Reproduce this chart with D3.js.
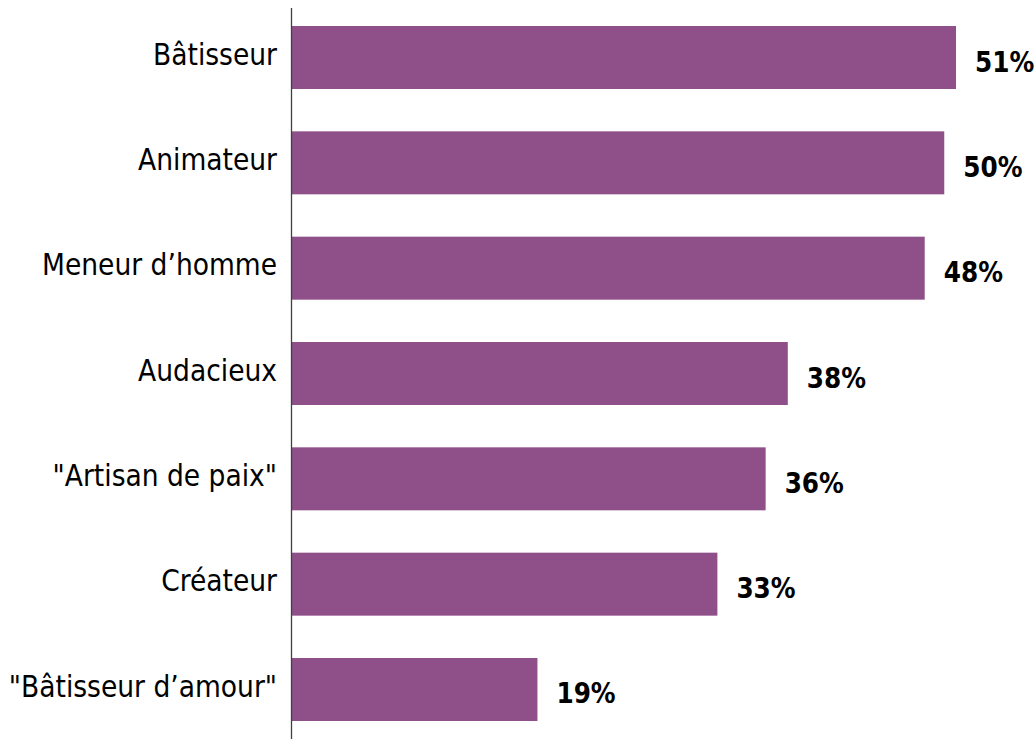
<!DOCTYPE html>
<html>
<head>
<meta charset="utf-8">
<script src="https://cdn.jsdelivr.net/npm/d3@7"></script>
<style>
  html, body { margin: 0; padding: 0; background: #fff; }
</style>
</head>
<body>
<div id="chart"></div>
<script>
// categories, top to bottom
const categories = ["Bâtisseur", "Animateur", "Meneur d’homme", "Audacieux", "\"Artisan de paix\"", "Créateur", "\"Bâtisseur d’amour\""];
// values (%)
const values = [51.0, 50.1, 48.6, 38.1, 36.4, 32.7, 18.9];
// value labels shown next to each bar
const valueLabels = ["51%", "50%", "48%", "38%", "36%", "33%", "19%"];

const width = 1036, height = 739;
const margin = {top: 8, right: 80, bottom: 0, left: 291};

const svg = d3.select("#chart").append("svg")
    .attr("width", width)
    .attr("height", height)
    .attr("viewBox", [0, 0, width, height]);

const x = d3.scaleLinear()
    .domain([0, 51])
    .range([margin.left, 956]);

const y = d3.scaleBand()
    .domain(categories)
    .range([margin.top, height - margin.bottom])
    .paddingInner(0.402)
    .paddingOuter(0.171);

const rows = categories.map((c, i) => ({cat: c, v: values[i], label: valueLabels[i]}));

// bars
svg.append("g")
    .attr("fill", "#8f508a")
  .selectAll("rect")
  .data(rows)
  .join("rect")
    .attr("x", x(0))
    .attr("y", d => y(d.cat))
    .attr("width", d => x(d.v) - x(0))
    .attr("height", y.bandwidth());

// value labels
svg.append("g")
    .attr("font-family", "'DejaVu Sans Condensed', 'DejaVu Sans', sans-serif")
    .attr("font-weight", "bold")
    .attr("font-size", 27.5)
    .attr("fill", "#000")
  .selectAll("text")
  .data(rows)
  .join("text")
    .attr("x", d => x(d.v) + 19)
    .attr("y", d => y(d.cat) + y.bandwidth() / 2 + 4)
    .attr("dominant-baseline", "central")
    .text(d => d.label);

// y axis (line + category labels, no ticks)
const yAxis = g => g
    .attr("transform", `translate(${margin.left},0)`)
    .call(d3.axisLeft(y).tickSize(0).tickPadding(14))
    .call(g => g.select(".domain").attr("d", `M0.5,${margin.top}V${height}`).attr("stroke", "#404040").attr("stroke-width", 1.3))
    .call(g => g.selectAll(".tick text")
        .attr("font-family", "'DejaVu Sans Condensed', 'DejaVu Sans', sans-serif")
        .attr("font-size", 29.5)
        .attr("fill", "#000")
        .attr("dy", "0.24em"));

svg.append("g").call(yAxis);
</script>
</body>
</html>
